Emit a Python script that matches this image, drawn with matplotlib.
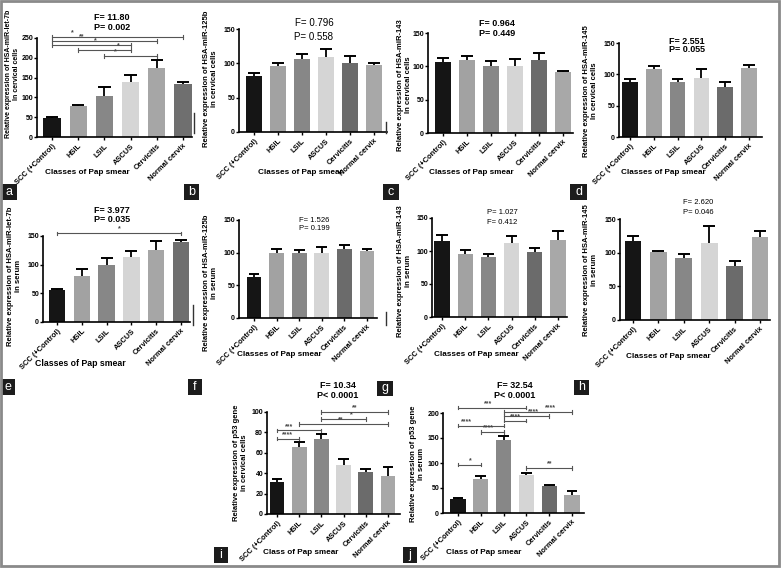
import matplotlib
matplotlib.use('Agg')
import matplotlib.pyplot as plt
from matplotlib.patches import Rectangle
from matplotlib.lines import Line2D

plt.rcParams['font.family'] = ['Liberation Sans', 'DejaVu Sans']
plt.rcParams['font.weight'] = 'bold'

categories = ['SCC (+Control)', 'HSIL', 'LSIL', 'ASCUS', 'Cervicitis', 'Normal cervix']

# bar means and upper error (SEM) for every panel
a_mean = [48, 78, 103, 140, 173, 133]
a_err = [2, 3, 24, 16, 22, 7]
b_mean = [81, 96, 106, 109, 100, 97]
b_err = [5, 5, 7, 12, 10, 4]
c_mean = [107, 110, 100, 100, 109, 91]
c_err = [6, 6, 8, 11, 11, 2]
d_mean = [87, 109, 87, 94, 79, 110]
d_err = [5, 5, 5, 14, 9, 5]
e_mean = [56, 80, 99, 113, 125, 139]
e_err = [2, 12, 13, 11, 17, 4]
f_mean = [62, 99, 100, 99, 106, 102]
f_err = [5, 7, 4, 9, 5, 4]
g_mean = [115, 95, 91, 112, 98, 116]
g_err = [10, 7, 4, 11, 7, 15]
h_mean = [118, 101, 92, 114, 80, 123]
h_err = [7, 2, 6, 25, 7, 9]
i_mean = [31, 66, 74, 48, 41, 37]
i_err = [3, 5, 4, 6, 3, 9]
j_mean = [28, 68, 147, 77, 55, 37]
j_err = [3, 7, 8, 3, 1.5, 7]

# significance brackets: (from, to, level, stars)
a_sig = [(0, 5, 252, '*'), (0, 4, 242, '**'), (0, 3, 233, '*'), (1, 3, 220, '*'), (2, 4, 205, '*')]
e_sig = [(0, 5, 155, '*')]
i_sig = [(2, 5, 100, '**'), (2, 4, 93, '*'), (1, 5, 88, '**'), (0, 2, 82, '***'), (0, 1, 74, '****')]
j_sig = [(0, 3, 211, '***'), (2, 5, 202, '****'), (2, 4, 194, '****'), (2, 3, 185, '****'),
         (0, 2, 175, '****'), (1, 2, 162, '****'), (0, 1, 97, '*'), (3, 5, 90, '**')]

ylabels = {
    'a': 'Relative expression of HSA-miR-let-7b\nIn cervical cells',
    'b': 'Relative expression of HSA-miR-125b\nin cervical cells',
    'c': 'Relative expression of HSA-miR-143\nIn cervical cells',
    'd': 'Relative expression of HSA-miR-145\nIn cervical cells',
    'e': 'Relative expression of HSA-miR-let-7b\nin serum',
    'f': 'Relative expression of HSA-miR-125b\nin serum',
    'g': 'Relative expression of HSA-miR-143\nin serum',
    'h': 'Relative expression of HSA-miR-145\nin serum',
    'i': 'Relative expression of p53 gene\nin cervical cells',
    'j': 'Relative expression of p53 gene\nin serum',
}
stats = {
    'a': ('F= 11.80', 'P= 0.002'), 'b': ('F= 0.796', 'P= 0.558'),
    'c': ('F= 0.964', 'P= 0.449'), 'd': ('F= 2.551', 'P= 0.055'),
    'e': ('F= 3.977', 'P= 0.035'), 'f': ('F= 1.526', 'P= 0.199'),
    'g': ('P= 1.027', 'F= 0.412'), 'h': ('F= 2.620', 'P= 0.046'),
    'i': ('F= 10.34', 'P< 0.0001'), 'j': ('F= 32.54', 'P< 0.0001'),
}

pal_main = ['#151515', '#a2a2a2', '#878787', '#d5d5d5', '#6b6b6b', '#a8a8a8']
pal_let7 = ['#151515', '#a2a2a2', '#878787', '#d5d5d5', '#a6a6a6', '#6f6f6f']

W, H = 781, 568
fig = plt.figure(figsize=(W / 100, H / 100), dpi=100)


def fx(x):
    return x / W


def fy(y):
    return 1 - y / H


# pixel layout: left, first bar, last bar, right, top, bottom
panels = [
    ('a', a_mean, a_err, a_sig, 250, 50, pal_let7, (37, 52, 183, 192, 38, 137)),
    ('b', b_mean, b_err, [], 150, 50, pal_main, (239, 254, 374, 387, 29, 132)),
    ('c', c_mean, c_err, [], 150, 50, pal_main, (428, 443, 563, 573, 33, 133)),
    ('d', d_mean, d_err, [], 150, 50, pal_main, (619, 630, 749, 762, 43, 137)),
    ('e', e_mean, e_err, e_sig, 150, 50, pal_let7, (43, 57, 181, 190, 236, 322)),
    ('f', f_mean, f_err, [], 150, 50, pal_main, (239, 254, 367, 377, 220, 318)),
    ('g', g_mean, g_err, [], 150, 50, pal_main, (432, 442, 558, 567, 218, 317)),
    ('h', h_mean, h_err, [], 150, 50, pal_main, (620, 633, 760, 770, 219, 320)),
    ('i', i_mean, i_err, i_sig, 100, 20, pal_main, (267, 277, 388, 400, 412, 514)),
    ('j', j_mean, j_err, j_sig, 200, 50, pal_main, (443, 458, 572, 584, 413, 513)),
]

# where the asterisks sit along each bracket (category units)
star_x = {
    'a': [0.76, 1.15, 1.64, 2.52, 2.4],
    'e': [2.5],
    'i': [3.5, 3.35, 2.85, 0.54, 0.45],
    'j': [1.32, 4.04, 3.29, 2.54, 0.39, 1.32, 0.53, 4.04],
}

text_pos = {
    'a': ((112, 17), (112, 27), 'bold', 6.5), 'b': ((314, 23), (314, 37), 'normal', 7),
    'c': ((497, 23), (497, 33), 'bold', 6.5), 'd': ((687, 41), (687, 50), 'bold', 6.5),
    'e': ((112, 210), (112, 220), 'bold', 6.5), 'f': ((314, 221), (314, 229), 'normal', 5.5),
    'g': ((502, 213), (502, 223), 'normal', 5.5), 'h': ((698, 203), (698, 213), 'normal', 5.5),
    'i': ((338, 386), (338, 396), 'bold', 6.5), 'j': ((515, 386), (515, 396), 'bold', 6.5),
}
xlab_pos = {'a': (87, 173), 'b': (300, 173), 'c': (471, 173), 'd': (663, 173),
            'e': (80, 363), 'f': (279, 355), 'g': (476, 355), 'h': (668, 356),
            'i': (301, 552), 'j': (484, 552)}
ylab_pos = {'a': (13, 74), 'b': (211, 79), 'c': (405, 85), 'd': (591, 91),
            'e': (15, 276), 'f': (211, 283), 'g': (405, 271), 'h': (591, 270),
            'i': (241, 463), 'j': (418, 464)}
letter_box = {'a': (1, 184, 17, 200), 'b': (184, 184, 199, 200), 'c': (383, 184, 399, 200),
              'd': (570, 184, 587, 200), 'e': (1, 379, 15, 395), 'f': (188, 379, 202, 395),
              'g': (377, 381, 393, 396), 'h': (574, 380, 589, 395), 'i': (214, 547, 228, 563),
              'j': (403, 547, 417, 563)}

for key, mean, err, sig, ymax, ystep, pal, (left, c0, c5, right, top, bottom) in panels:
    ax = fig.add_axes([fx(left), fy(bottom), (right - left) / W, (bottom - top) / H])
    s = (c5 - c0) / 5
    x = list(range(len(categories)))
    ax.bar(x, mean, width=0.66, color=pal, zorder=2)
    tops = [m + e for m, e in zip(mean, err)]
    ax.vlines(x, mean, tops, color='black', lw=1.3, zorder=3)
    ax.hlines(tops, [v - 0.24 for v in x], [v + 0.24 for v in x], color='black', lw=1.4, zorder=3)
    ax.set_xlim((left - c0) / s, 5 + (right - c5) / s)
    ax.set_ylim(0, ymax)
    ax.set_yticks(range(0, ymax + 1, ystep))
    ax.set_xticks(x)
    ax.set_xticklabels(categories, rotation=45, ha='right', rotation_mode='anchor', fontsize=5.4)
    ax.tick_params(axis='y', labelsize=5, length=2, width=1, pad=0.8)
    ax.tick_params(axis='x', length=2.5, width=1, pad=1.5)
    for sp in ('top', 'right'):
        ax.spines[sp].set_visible(False)
    for sp in ('left', 'bottom'):
        ax.spines[sp].set_linewidth(1.2)
    ax.patch.set_visible(False)

    tick = ymax * 0.018
    for (i0, i1, lev, stars), sx in zip(sig, star_x.get(key, [])):
        ax.plot([i0, i1], [lev, lev], color='#555555', lw=0.8, clip_on=False)
        for xe in (i0, i1):
            ax.plot([xe, xe], [lev - tick, lev + tick], color='#555555', lw=0.8, clip_on=False)
        ax.text(sx, lev + tick * 0.3, stars, ha='center', va='bottom',
                fontsize=5, color='#444444', clip_on=False)

    (tx1, ty1), (tx2, ty2), wt, fs = text_pos[key]
    fig.text(fx(tx1), fy(ty1), stats[key][0], ha='center', va='center', fontsize=fs, fontweight=wt)
    fig.text(fx(tx2), fy(ty2), stats[key][1], ha='center', va='center', fontsize=fs, fontweight=wt)

    lx, ly = xlab_pos[key]
    fig.text(fx(lx), fy(ly), 'Class of Pap smear' if key in 'ij' else 'Classes of Pap smear',
             ha='center', va='center', fontsize=6.3 if key == 'e' else 5.9)
    yx, yy = ylab_pos[key]
    fig.text(fx(yx), fy(yy), ylabels[key], rotation=90, ha='center', va='center',
             fontsize=5.0 if key == 'a' else 5.5, linespacing=1.2, multialignment='center')

    bx0, by0, bx1, by1 = letter_box[key]
    fig.patches.append(Rectangle((fx(bx0), fy(by1)), (bx1 - bx0) / W, (by1 - by0) / H,
                                 transform=fig.transFigure, facecolor='#1c1c1c', edgecolor='none'))
    fig.text(fx((bx0 + bx1) / 2), fy((by0 + by1) / 2), key, color='white', ha='center',
             va='center', fontsize=9, fontweight='normal')

# outer frame and small separator marks
fig.patches.append(Rectangle((fx(1), fy(566)), 778 / W, 565 / H, transform=fig.transFigure,
                             facecolor='none', edgecolor='#8a8a8a', lw=2))
for xs, y0, y1 in [(194, 113, 133), (386, 122, 133), (193, 305, 325), (386, 312, 325)]:
    fig.lines.append(Line2D([fx(xs), fx(xs)], [fy(y0), fy(y1)], transform=fig.transFigure,
                            color='#333333', lw=1))

fig.savefig('out.png', dpi=100)
